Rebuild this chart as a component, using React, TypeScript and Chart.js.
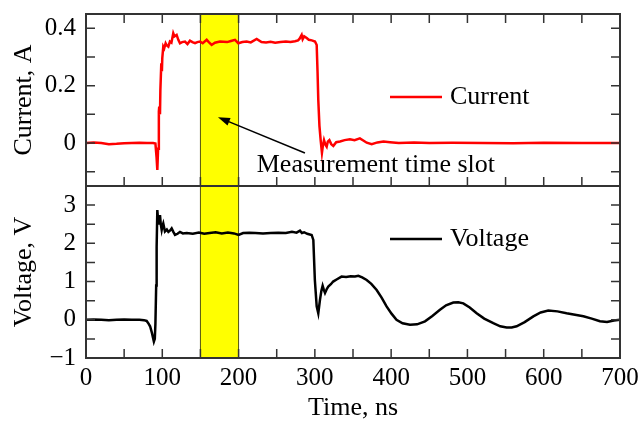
import React, { useEffect, useRef } from "react";
import { Chart, registerables } from "chart.js";

Chart.register(...registerables);

// Pulse response: current through the load and voltage across it
const currentTime = [
  0, 10, 20, 30, 40, 50, 60, 70, 80, 88,
  91, 92.5, 93.5, 94.5, 95.5, 96, 97, 97.5, 98.7, 99.5,
  100, 101.3, 102.5, 104.4, 106, 107.9, 110, 112, 114.4, 116,
  118.8, 121, 123.2, 126, 129.8, 133, 136.3, 139.5, 142.9, 146,
  149.4, 153, 158.2, 161, 164.7, 169, 175.6, 180, 185, 190,
  195.3, 199.7, 205, 210.6, 216, 223.7, 230, 236, 242, 248,
  255, 262, 268, 274, 278, 280, 282.7, 284, 286, 289.3,
  292, 296, 300.2, 302.4, 303.5, 304.5, 306, 307.6, 309.3, 310.5,
  312, 313.7, 315.5, 317, 319, 321.5, 324.2, 328, 333, 339,
  346, 352, 359, 364, 368, 374.5, 382, 390, 398.5, 410,
  430, 450, 480, 520, 560, 600, 650, 700,
];
const currentAmps = [
  0, 0.002, 0, -0.004, -0.003, -0.001, 0, 0.001, 0, 0,
  -0.002, -0.05, -0.094, -0.02, 0.11, 0.127, 0.1, 0.185, 0.278, 0.25,
  0.296, 0.336, 0.33, 0.348, 0.34, 0.336, 0.354, 0.35, 0.383, 0.372,
  0.377, 0.36, 0.348, 0.352, 0.354, 0.345, 0.357, 0.352, 0.348, 0.352,
  0.354, 0.348, 0.36, 0.352, 0.342, 0.35, 0.354, 0.353, 0.352, 0.356,
  0.36, 0.348, 0.352, 0.354, 0.351, 0.363, 0.352, 0.351, 0.353, 0.35,
  0.352, 0.354, 0.352, 0.355, 0.358, 0.364, 0.377, 0.362, 0.372, 0.366,
  0.36, 0.358, 0.354, 0.342, 0.25, 0.15, 0.06, 0.01, -0.034, -0.01,
  0.01, -0.005, -0.013, 0.005, 0.01, -0.004, -0.01, 0.003, 0.005, 0.01,
  0.013, 0.01, 0.016, 0.008, 0.001, -0.004, 0.002, 0.005, 0.003, 0,
  0.002, 0, 0.001, 0, -0.001, 0.001, 0, 0,
];

const voltageTime = [
  0, 10, 20, 30, 40, 50, 60, 70, 76, 79.5,
  82, 84, 86.5, 89, 90.2, 91, 92, 92.6, 93.5, 94.5,
  95.7, 97, 98, 99.2, 100.2, 101.3, 103.5, 106, 108, 110,
  112.3, 114.5, 116.7, 120, 123.2, 127, 132, 140, 148, 155,
  162, 170, 178, 186, 194, 200, 206, 214, 222, 232,
  242, 252, 262, 270, 276, 280.5, 283, 286, 290, 295.8,
  298, 300, 302.4, 304.5, 306.7, 308.5, 310.2, 311.8, 313.3, 315.5,
  317.6, 321, 324, 329, 335, 341, 347, 352.6, 357, 362,
  367.9, 374, 381, 387.5, 394, 400.5, 407, 415, 424.7, 434,
  444.4, 454, 464, 472, 481.5, 488, 494.6, 503, 512.1, 522,
  533.9, 543, 551.4, 558, 564.5, 575, 586.4, 596, 606, 618,
  630, 641, 652, 663, 673.7, 683, 692, 700,
];
const voltageVolts = [
  0, 0.01, 0, -0.01, 0, 0.005, 0, 0, -0.01, -0.03,
  -0.1, -0.17, -0.35, -0.57, -0.5, -0.1, 0.9, 1.91, 2.87, 2.6,
  2.52, 2.74, 2.5, 2.35, 2.45, 2.52, 2.31, 2.36, 2.3, 2.33,
  2.39, 2.3, 2.22, 2.25, 2.3, 2.26, 2.27, 2.25, 2.28, 2.25,
  2.27, 2.29, 2.26, 2.28, 2.26, 2.22, 2.27, 2.28, 2.27, 2.26,
  2.27, 2.28, 2.27, 2.3, 2.28, 2.33, 2.27, 2.29, 2.25, 2.22,
  2.09, 1.04, 0.35, 0.17, 0.52, 0.75, 0.89, 0.78, 0.7, 0.8,
  0.87, 0.93, 1.0, 1.06, 1.13, 1.12, 1.14, 1.13, 1.15, 1.11,
  1.04, 0.94, 0.78, 0.58, 0.35, 0.16, 0.0, -0.09, -0.13, -0.12,
  -0.04, 0.1, 0.26, 0.38, 0.45, 0.46, 0.43, 0.32, 0.17, 0.03,
  -0.09, -0.17, -0.2, -0.2, -0.17, -0.06, 0.09, 0.19, 0.24, 0.22,
  0.17, 0.13, 0.09, 0.03, -0.04, -0.06, -0.02, 0.0,
];

// Axis ticks (every tick gets a mark, only some get a label)
const timeTicks = [0, 50, 100, 150, 200, 250, 300, 350, 400, 450, 500, 550, 600, 650, 700];
const timeLabels = ["0", "", "100", "", "200", "", "300", "", "400", "", "500", "", "600", "", "700"];
const currentTicks = [-0.1, 0, 0.1, 0.2, 0.3, 0.4];
const currentLabels = ["", "0", "", "0.2", "", "0.4"];
const voltageTicks = [-1, -0.5, 0, 0.5, 1, 1.5, 2, 2.5, 3];
const voltageLabels = ["\u22121", "", "0", "", "1", "", "2", "", "3"];

// Measurement window and its callout
const slotStart = 150;
const slotEnd = 200;
const slotText = "Measurement time slot";
const slotTextAt = { x: 380, y: -0.1 };
const slotArrowFrom = { x: 287, y: -0.035 };
const slotArrowTo = { x: 173, y: 0.09 };

const FONT = '"Liberation Serif", "Times New Roman", Times, serif';
const FRAME = "#333333";
const TEXT_SIZE = 26;

const panelPlugin = {
  id: "panelDecor",
  beforeDatasetsDraw(chart: any) {
    const { ctx, chartArea } = chart;
    const xs = chart.scales.x;
    const x0 = xs.getPixelForValue(slotStart);
    const x1 = xs.getPixelForValue(slotEnd);
    ctx.save();
    ctx.fillStyle = "#ffff00";
    ctx.fillRect(x0, chartArea.top, x1 - x0, chartArea.bottom - chartArea.top);
    ctx.strokeStyle = "#55550f";
    ctx.lineWidth = 1;
    ctx.beginPath();
    ctx.moveTo(x0, chartArea.top);
    ctx.lineTo(x0, chartArea.bottom);
    ctx.moveTo(x1, chartArea.top);
    ctx.lineTo(x1, chartArea.bottom);
    ctx.stroke();
    ctx.restore();
  },
  afterDatasetsDraw(chart: any) {
    const { ctx, chartArea } = chart;
    const xs = chart.scales.x;
    const yI = chart.scales.yI;
    const yV = chart.scales.yV;
    const L = chartArea.left;
    const R = chartArea.right;
    const TL = 9;
    ctx.save();
    ctx.strokeStyle = FRAME;
    ctx.lineWidth = 1.5;
    ctx.beginPath();
    for (const s of [yI, yV]) {
      for (const t of s.ticks) {
        const y = s.getPixelForValue(t.value);
        ctx.moveTo(L, y);
        ctx.lineTo(L + TL, y);
        ctx.moveTo(R, y);
        ctx.lineTo(R - TL, y);
      }
    }
    for (const t of xs.ticks) {
      const x = xs.getPixelForValue(t.value);
      ctx.moveTo(x, yI.top);
      ctx.lineTo(x, yI.top + TL);
      ctx.moveTo(x, yI.bottom);
      ctx.lineTo(x, yI.bottom - TL);
      ctx.moveTo(x, yV.bottom);
      ctx.lineTo(x, yV.bottom - TL);
    }
    ctx.stroke();

    ctx.lineWidth = 2;
    ctx.strokeRect(L, yI.top, R - L, yI.bottom - yI.top);
    ctx.strokeRect(L, yV.top, R - L, yV.bottom - yV.top);

    // legends, one per panel
    const legends = [
      { ds: chart.data.datasets[0], y: yI.top + 83 },
      { ds: chart.data.datasets[1], y: yV.top + 53 },
    ];
    ctx.font = `${TEXT_SIZE}px ${FONT}`;
    ctx.textBaseline = "middle";
    ctx.textAlign = "left";
    for (const lg of legends) {
      ctx.strokeStyle = lg.ds.borderColor;
      ctx.lineWidth = 2.5;
      ctx.beginPath();
      ctx.moveTo(L + 304, lg.y);
      ctx.lineTo(L + 356, lg.y);
      ctx.stroke();
      ctx.fillStyle = "#000";
      ctx.fillText(lg.ds.label, L + 364, lg.y);
    }

    // callout for the measurement slot
    const ax0 = xs.getPixelForValue(slotArrowFrom.x);
    const ay0 = yI.getPixelForValue(slotArrowFrom.y);
    const ax1 = xs.getPixelForValue(slotArrowTo.x);
    const ay1 = yI.getPixelForValue(slotArrowTo.y);
    const ang = Math.atan2(ay1 - ay0, ax1 - ax0);
    const headLen = 12;
    const headW = 4;
    ctx.strokeStyle = "#000";
    ctx.fillStyle = "#000";
    ctx.lineWidth = 1.5;
    ctx.beginPath();
    ctx.moveTo(ax0, ay0);
    ctx.lineTo(ax1 - Math.cos(ang) * headLen * 0.8, ay1 - Math.sin(ang) * headLen * 0.8);
    ctx.stroke();
    const bx = ax1 - Math.cos(ang) * headLen;
    const by = ay1 - Math.sin(ang) * headLen;
    ctx.beginPath();
    ctx.moveTo(ax1, ay1);
    ctx.lineTo(bx - Math.sin(ang) * headW, by + Math.cos(ang) * headW);
    ctx.lineTo(bx + Math.sin(ang) * headW, by - Math.cos(ang) * headW);
    ctx.closePath();
    ctx.fill();

    ctx.textAlign = "center";
    ctx.textBaseline = "alphabetic";
    ctx.fillText(slotText, xs.getPixelForValue(slotTextAt.x), yI.getPixelForValue(slotTextAt.y));
    ctx.restore();
  },
};

const fitY = (s: any) => {
  s.width = 86;
  s.paddingTop = 0;
  s.paddingBottom = 0;
};

export default function App() {
  const canvasRef = useRef<HTMLCanvasElement | null>(null);

  useEffect(() => {
    document.body.style.margin = "0";
    const canvas = canvasRef.current;
    if (!canvas) return;

    const tickFont = { family: FONT, size: 25 };
    const titleFont = { family: FONT, size: TEXT_SIZE };

    const chart = new Chart(canvas, {
      type: "line",
      data: {
        datasets: [
          {
            label: "Current",
            data: currentTime.map((t, i) => ({ x: t, y: currentAmps[i] })),
            yAxisID: "yI",
            borderColor: "#ff0000",
            borderWidth: 2.5,
            pointRadius: 0,
            tension: 0,
          },
          {
            label: "Voltage",
            data: voltageTime.map((t, i) => ({ x: t, y: voltageVolts[i] })),
            yAxisID: "yV",
            borderColor: "#000000",
            borderWidth: 2.5,
            pointRadius: 0,
            tension: 0,
          },
        ],
      },
      options: {
        responsive: false,
        animation: false,
        devicePixelRatio: 1,
        layout: { padding: { left: 0, right: 20, top: 14, bottom: 0 } },
        plugins: { legend: { display: false }, tooltip: { enabled: false } },
        scales: {
          x: {
            type: "linear",
            position: "bottom",
            min: 0,
            max: 700,
            afterBuildTicks: (s: any) => {
              s.ticks = timeTicks.map((v) => ({ value: v }));
            },
            afterFit: (s: any) => {
              s.height = 66;
              s.paddingLeft = 0;
              s.paddingRight = 0;
            },
            grid: { display: false, drawTicks: false },
            border: { display: false },
            ticks: {
              padding: 5,
              color: "#000",
              font: tickFont,
              maxRotation: 0,
              autoSkip: false,
              callback: (_v: any, i: number) => timeLabels[i],
            },
            title: { display: true, text: "Time, ns", color: "#000", font: titleFont, padding: 0 },
          },
          yV: {
            type: "linear",
            position: "left",
            stack: "panels",
            stackWeight: 1,
            min: -1,
            max: 3.5,
            afterBuildTicks: (s: any) => {
              s.ticks = voltageTicks.map((v) => ({ value: v }));
            },
            afterFit: fitY,
            grid: { display: false, drawTicks: false },
            border: { display: false },
            ticks: {
              padding: 10,
              color: "#000",
              font: tickFont,
              autoSkip: false,
              callback: (_v: any, i: number) => voltageLabels[i],
            },
            title: { display: true, text: "Voltage, V", color: "#000", font: titleFont, padding: { top: 9, bottom: 0 } },
          },
          yI: {
            type: "linear",
            position: "left",
            stack: "panels",
            stackWeight: 1,
            min: -0.15,
            max: 0.45,
            afterBuildTicks: (s: any) => {
              s.ticks = currentTicks.map((v) => ({ value: v }));
            },
            afterFit: fitY,
            grid: { display: false, drawTicks: false },
            border: { display: false },
            ticks: {
              padding: 10,
              color: "#000",
              font: tickFont,
              autoSkip: false,
              callback: (_v: any, i: number) => currentLabels[i],
            },
            title: { display: true, text: "Current, A", color: "#000", font: titleFont, padding: { top: 9, bottom: 0 } },
          },
        },
      },
      plugins: [panelPlugin],
    } as any);

    return () => chart.destroy();
  }, []);

  return (
    <div style={{ position: "absolute", left: 0, top: 0, width: 640, height: 424, background: "#fff" }}>
      <canvas ref={canvasRef} width={640} height={424} />
    </div>
  );
}
